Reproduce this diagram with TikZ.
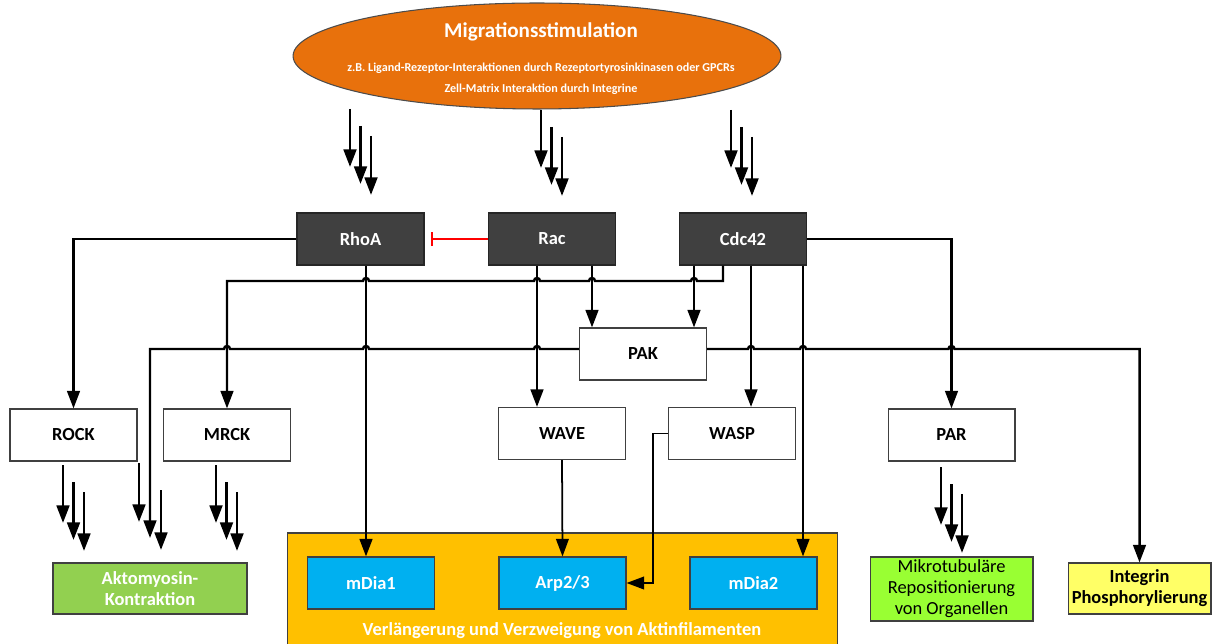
\documentclass[tikz,border=0pt]{standalone}
\usepackage{fontspec}
\setmainfont{Carlito}
\usepackage{xcolor}
\usepackage{tikz}
\usetikzlibrary{shapes,arrows,arrows.meta}
\usetikzlibrary{calc}
\definecolor{stimorange}{HTML}{E8710C}
\definecolor{gtpgrey}{HTML}{404040}
\definecolor{aktinyellow}{HTML}{FFC000}
\definecolor{diablue}{HTML}{00B0F0}
\definecolor{myogreen}{HTML}{92D050}
\definecolor{mtgreen}{HTML}{99FF33}
\definecolor{intyellow}{HTML}{FFFF66}
\tikzset{
    gtp/.style={draw=black!85, line width=0.6pt, fill=gtpgrey, inner sep=0pt, minimum width=2.54cm, minimum height=1.04cm, text=white, font=\fontsize{10.5}{12}\selectfont\bfseries},
    eff/.style={draw=black!75, line width=0.6pt, fill=white, inner sep=0pt, minimum width=2.54cm, minimum height=1.04cm, font=\fontsize{10.5}{12}\selectfont\bfseries},
    dia/.style={eff, fill=diablue, text=white},
    outc/.style={draw=black!75, line width=0.6pt, inner sep=0pt, align=center, font=\fontsize{10.5}{12}\selectfont},
    fat/.tip={Triangle[width=7.2pt,length=10pt]}}
\tikzset{
    conn/.style={-fat, line width=1.4pt},
    thin conn/.style={-fat, line width=1pt},
    hop/.style={insert path={arc[start angle=0, end angle=180, radius=0.06cm]}},
    hopr/.style={insert path={arc[start angle=180, end angle=0, radius=0.06cm]}},
    three/.pic={\draw[-fat, line width=1.6pt] (0,0) -- (0,58);
                \draw[-fat, line width=1.6pt] (10.5,17) -- (10.5,75);
                \draw[-fat, line width=1.6pt] (21,27) -- (21,86);},
    two/.pic={\draw[-fat, line width=1.6pt] (0,0) -- (0,59);
              \draw[-fat, line width=1.6pt] (22,27) -- (22,87);}
}

\begin{document}
\begin{tikzpicture}[x=0.02cm, y=-0.02cm]
\useasboundingbox (0,0) rectangle (1212,644);
\clip (0,0) rectangle (1212,644);

%Stimulus
\node[ellipse, draw=black!70, line width=0.6pt, fill=stimorange, minimum width=9.76cm, minimum height=2.12cm, inner sep=0pt] (stim) at (537,56) {};
\node[text=white, font=\fontsize{12}{14}\selectfont\bfseries] (stimT) at (541,32) {Migrationsstimulation};
\node[text=white, font=\fontsize{6.9}{8}\selectfont\bfseries] (stimA) at (541,68) {z.B. Ligand-Rezeptor-Interaktionen durch Rezeptortyrosinkinasen oder GPCRs};
\node[text=white, font=\fontsize{6.9}{8}\selectfont\bfseries] (stimB) at (541,89) {Zell-Matrix Interaktion durch Integrine};
\pic at (350,109) {three};
\pic at (541,110) {three};
\pic at (731,110) {three};

%GTPases
\node[gtp] (RhoA) at (360.5,239) {RhoA};
\node[gtp] (Rac) at (552,239) {Rac};
\node[gtp] (Cdc42) at (743,239) {Cdc42};
\coordinate (inhib) at (431,239);
\draw[red, line width=1pt, -{Bar[width=8pt]}] (Rac.west) -- (inhib);

%Effectors
\node[eff] (PAK) at (643,354) {PAK};
\node[eff] (ROCK) at (73.5,435) {ROCK};
\node[eff] (MRCK) at (227,435) {MRCK};
\node[eff] (WAVE) at (562,433.5) {WAVE};
\node[eff] (WASP) at (732,433.5) {WASP};
\node[eff] (PAR) at (951.5,435) {PAR};

%Outcomes
\node[draw=black!75, line width=0.6pt, fill=aktinyellow, minimum width=11.02cm, minimum height=2.4cm, inner sep=0pt] (aktin) at (562.5,593) {};
\node[text=white, font=\fontsize{10.5}{12}\selectfont\bfseries] (aktinT) at (562,631) {Verlängerung und Verzweigung von Aktinfilamenten};
\node[dia] (mDia1) at (371,583) {mDia1};
\node[dia] (Arp) at (562.5,583) {Arp2/3};
\node[dia] (mDia2) at (753.5,583) {mDia2};
\node[outc, fill=myogreen, text=white, font=\fontsize{10.5}{12}\selectfont\bfseries, minimum width=3.88cm, minimum height=1.02cm] (myo) at (150,588.5) {Aktomyosin-\\Kontraktion};
\node[outc, fill=mtgreen, minimum width=3.26cm, minimum height=1.28cm] (mt) at (951.5,589) {Mikrotubuläre\\Repositionierung\\von Organellen};
\node[outc, fill=intyellow, font=\fontsize{10.5}{12}\selectfont\bfseries, minimum width=2.86cm, minimum height=1.02cm] (integ) at (1139.5,588.5) {Integrin\\Phosphorylierung};
\pic at (63,465) {three};
\pic at (139,463) {two};
\pic at (216,465) {three};
\pic at (941,467) {three};

%Lanes
\coordinate (xa) at (366,0);
\coordinate (xb) at (537,0);
\coordinate (xc) at (592,0);
\coordinate (xd) at (694,0);
\coordinate (xe) at (723,0);
\coordinate (xf) at (751,0);
\coordinate (xg) at (803,0);
\coordinate (ya) at (0,349);
\coordinate (yb) at (0,281);
\coordinate (wbend) at (653,0);
\coordinate (myo2) at (150,538);

\draw[conn] (RhoA.west) -| (ROCK.north);
\draw[conn] (RhoA.south -| xa) -- (mDia1.north -| xa);
\draw[conn] (Rac.south -| xb) -- (WAVE.north -| xb);
\draw[conn] (Rac.south -| xc) -- (PAK.north -| xc);
\draw[conn] (Cdc42.south -| xd) -- (PAK.north -| xd);
\draw[conn] (Cdc42.south -| xf) -- (WASP.north -| xf);
\draw[conn] (Cdc42.south -| xg) -- (mDia2.north -| xg);
\draw[conn] (Cdc42.east) -| (PAR.north);
\draw[conn] (Cdc42.south -| xe) -- (xe |- yb) -- (697,281) [hop] -- (595,281) [hop] -- (540,281) [hop] -- (369,281) [hop] -| (MRCK.north);
\draw[conn] (PAK.west |- ya) -- (540,349) [hop] -- (369,349) [hop] -- (230,349) [hop] -| (myo2);
\draw[conn] (PAK.east |- ya) -- (748,349) [hopr] -- (800,349) [hopr] -- (948.5,349) [hopr] -| (integ.north);
\draw[thin conn] (WAVE.south) -- (Arp.north);
\draw[thin conn] (WASP.west) -- (WASP.west -| wbend) |- (Arp.east);
\end{tikzpicture}
\end{document}
